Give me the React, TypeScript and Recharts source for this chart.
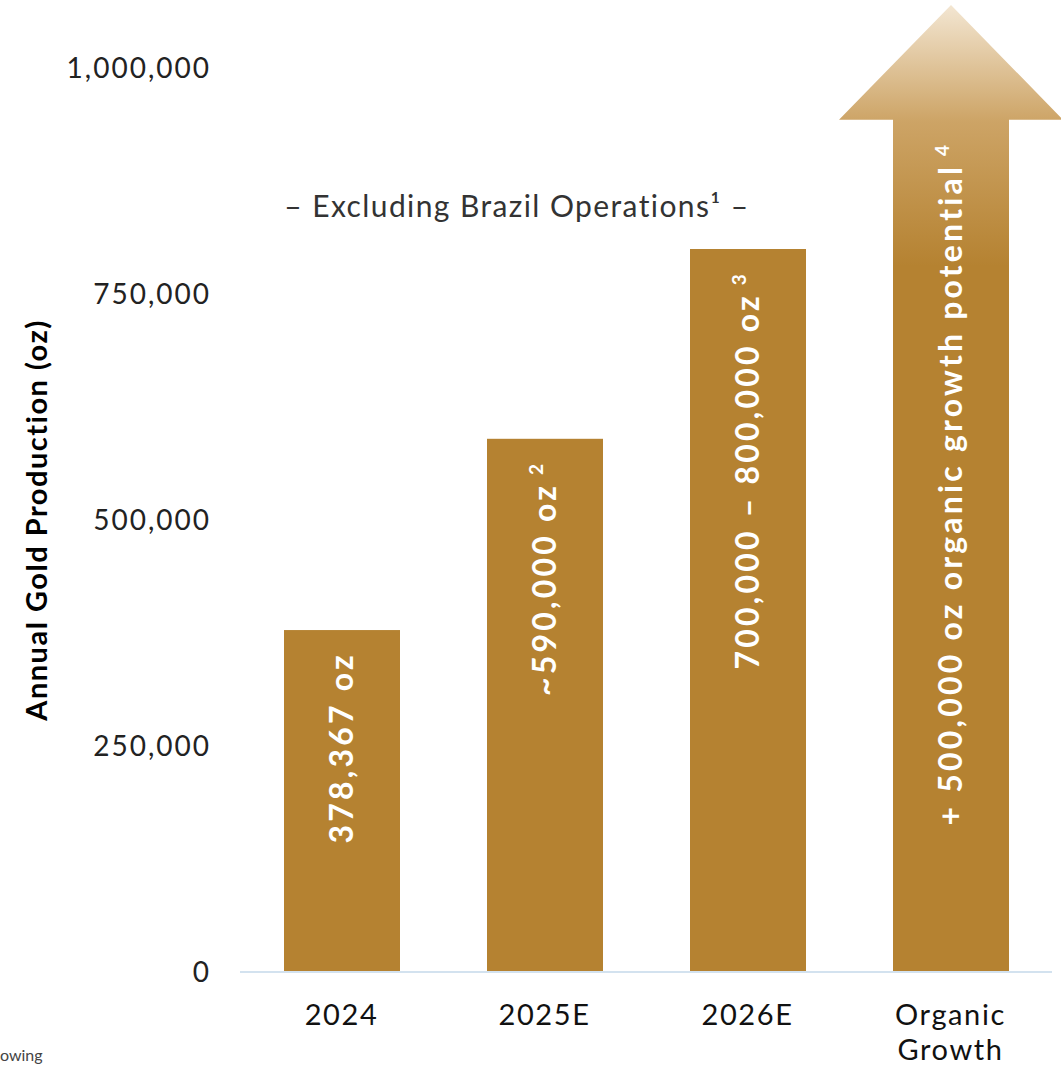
import React from 'react';
import { BarChart, Bar, XAxis, YAxis, LabelList } from 'recharts';

// categories and values
const categories = ['2024', '2025E', '2026E', 'Organic Growth'];
const production = [378367, 590000, 800000, 1070000]; // last = arrow tip
const arrowBase = 943000; // where the arrow head starts
const barLabels = ['378,367 oz', '~590,000 oz', '700,000 – 800,000 oz', '+ 500,000 oz organic growth potential'];
const barNotes = ['', '2', '3', '4'];
const yTicks = [0, 250000, 500000, 750000, 1000000];

const GOLD = '#B58231';
const FONT = 'Lato, "Open Sans", sans-serif';

const data = categories.map((c, i) => ({ name: c, value: production[i] }));

const BarShape = (props: any) => {
  const { x, y, width, height, index } = props;
  if (index !== 3) {
    return <rect x={x} y={y} width={width} height={height} fill={GOLD} />;
  }
  const bottom = y + height;
  const bodyTop = y + height * (1 - arrowBase / production[3]);
  const cx = x + width / 2;
  const half = 112;
  const pts = [
    [x, bottom],
    [x, bodyTop],
    [cx - half, bodyTop],
    [cx, y],
    [cx + half, bodyTop],
    [x + width, bodyTop],
    [x + width, bottom],
  ]
    .map((p) => p.join(','))
    .join(' ');
  return <polygon points={pts} fill="url(#arrowGrad)" />;
};

const BarLabel = (props: any) => {
  const { x, y, width, height, index } = props;
  let top = y;
  if (index === 3) top = y + height * (1 - arrowBase / production[3]);
  const cx = x + width / 2 + 11;
  const ty = top + 22;
  return (
    <text
      x={cx}
      y={ty}
      transform={`rotate(-90 ${cx} ${ty})`}
      textAnchor="end"
      fill="#fff"
      fontFamily={FONT}
      fontWeight={700}
      fontSize={32}
      letterSpacing={3.2}
    >
      {barLabels[index]}
      {barNotes[index] ? (
        <tspan fontSize={19} dy={-13}>{' ' + barNotes[index]}</tspan>
      ) : null}
    </text>
  );
};

const XTick = (props: any) => {
  const { x, y, payload } = props;
  const lines = payload.value === 'Organic Growth' ? ['Organic', 'Growth'] : [payload.value];
  return (
    <text x={x} y={y} textAnchor="middle" fill="#111" fontFamily={FONT} fontSize={29} letterSpacing={1.6}>
      {lines.map((l: string, i: number) => (
        <tspan key={i} x={x} dy={i === 0 ? 45 : 35}>{l}</tspan>
      ))}
    </text>
  );
};

export default function App() {
  return (
    <div style={{ position: 'absolute', left: 0, top: 0, width: 1061, height: 1066, background: '#fff', overflow: 'hidden' }}>
      <BarChart width={1061} height={1066} data={data} margin={{ top: 5, right: 9, bottom: 64, left: 0 }}>
        <defs>
          <linearGradient id="arrowGrad" x1="0" y1="0" x2="0" y2="1">
            <stop offset="0" stopColor="#F3E6D2" />
            <stop offset="0.12" stopColor="#CDA466" />
            <stop offset="0.27" stopColor={GOLD} />
            <stop offset="1" stopColor={GOLD} />
          </linearGradient>
        </defs>
        <XAxis
          dataKey="name"
          height={30}
          axisLine={{ stroke: '#D3E2EF', strokeWidth: 2 }}
          tickLine={false}
          tick={<XTick />}
          interval={0}
        />
        <YAxis
          width={240}
          domain={[0, 1070000]}
          ticks={yTicks}
          axisLine={false}
          tickLine={false}
          tickMargin={23}
          tickFormatter={(v: number) => v.toLocaleString('en-US')}
          tick={{ fill: '#222', fontSize: 28, fontFamily: FONT, letterSpacing: 2 }}
        />
        <Bar dataKey="value" barSize={116} shape={<BarShape />} isAnimationActive={false}>
          <LabelList dataKey="value" content={<BarLabel />} />
        </Bar>
        <text
          x={517}
          y={217}
          textAnchor="middle"
          fill="#333"
          fontFamily={FONT}
          fontSize={30}
          letterSpacing={1.4}
        >
          – Excluding Brazil Operations¹ –
        </text>
        <text
          x={47}
          y={520}
          transform="rotate(-90 47 520)"
          textAnchor="middle"
          fill="#000"
          fontFamily={FONT}
          fontWeight={700}
          fontSize={29}
          letterSpacing={1.5}
        >
          Annual Gold Production (oz)
        </text>
        <text x={0} y={1061} fill="#444" fontFamily={FONT} fontSize={16}>
          owing
        </text>
      </BarChart>
    </div>
  );
}
